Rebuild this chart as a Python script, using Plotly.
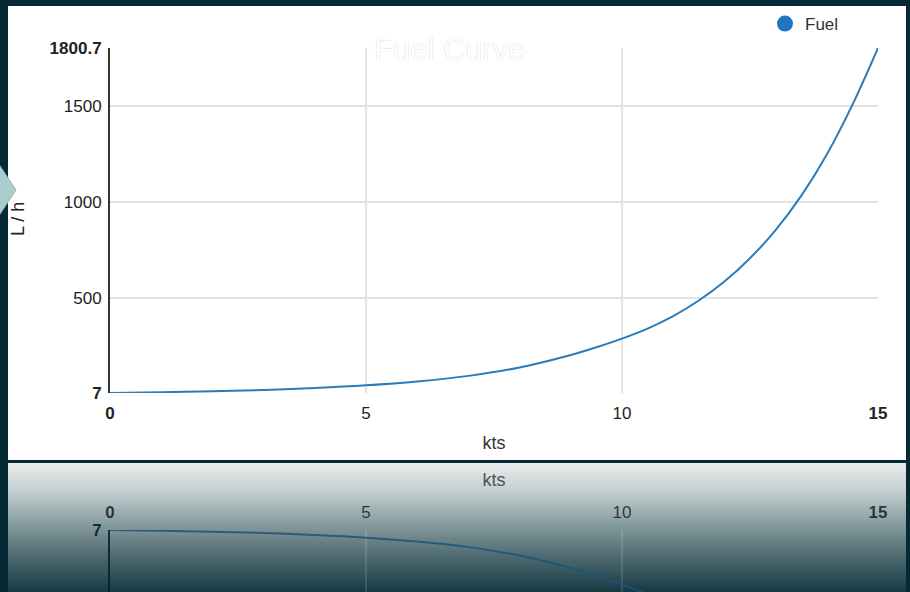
import base64
import struct
import zlib

import plotly.graph_objects as go

# ---- data ----
speed_kts = [0, 1, 2, 3, 4, 5, 6, 7, 8, 9, 9.5, 10, 10.5, 11, 11.5, 12, 12.5, 13, 13.5, 14, 14.5, 15]
fuel_lph = [7, 11, 16, 23, 33, 47, 67, 96, 140, 205, 245, 290, 342, 407, 488, 587, 708, 854, 1032, 1247, 1505, 1800.7]
series_name = "Fuel"
x_tickvals = [0, 5, 10, 15]
x_ticktext = ["<b>0</b>", "5", "10", "<b>15</b>"]
y_tickvals = [7, 500, 1000, 1500, 1800.7]
y_ticktext = ["<b>7</b>", "500", "1000", "1500", "<b>1800.7</b>"]
y_grid = [500, 1000, 1500]
x_grid = [5, 10]

# ---- geometry helpers (pixel -> paper) ----
W, H = 910, 592
L, R, T, B = 110, 32, 48, 0
PW, PH = W - L - R, H - T - B


def px(x):
    return (x - L) / PW


def py(y):
    return (H - B - y) / PH


FONT = "Arial, Liberation Sans, sans-serif"
LINE_COLOR = "#2b7bb8"
BG = "#062a33"

# y scale: 7 at pixel 393, 1800.7 at pixel 48
y_per_px = (1800.7 - 7) / (393 - 48)
refl_bottom_val = 7 + (592 - 530) * y_per_px


# ---- vertical gradient image for the reflection backdrop ----
def gradient_png(stops, height):
    rows = b""
    for i in range(height):
        yy = stops[0][0] + (stops[-1][0] - stops[0][0]) * (i + 0.5) / height
        c = stops[-1][1]
        for j in range(len(stops) - 1):
            if stops[j][0] <= yy <= stops[j + 1][0]:
                a, ca = stops[j]
                b, cb = stops[j + 1]
                t = (yy - a) / (b - a)
                c = tuple(int(round(ca[k] + (cb[k] - ca[k]) * t)) for k in range(3))
                break
        rows += b"\x00" + bytes(c) * 4

    def chunk(tag, data):
        return struct.pack(">I", len(data)) + tag + data + struct.pack(">I", zlib.crc32(tag + data) & 0xFFFFFFFF)

    png = b"\x89PNG\r\n\x1a\n"
    png += chunk(b"IHDR", struct.pack(">IIBBBBB", 4, height, 8, 2, 0, 0, 0))
    png += chunk(b"IDAT", zlib.compress(rows))
    png += chunk(b"IEND", b"")
    return "data:image/png;base64," + base64.b64encode(png).decode()


stops = [(463, (234, 237, 237)), (490, (198, 208, 209)), (520, (142, 162, 165)),
         (555, (80, 108, 114)), (592, (22, 58, 67))]
grad_src = gradient_png(stops, 129)

fig = go.Figure()

fig.add_trace(go.Scatter(
    x=speed_kts, y=fuel_lph, mode="lines", name=series_name,
    line=dict(color=LINE_COLOR, width=2, shape="spline", smoothing=1.0),
    showlegend=False, xaxis="x", yaxis="y", hoverinfo="x+y",
))
# legend entry (circle symbol)
fig.add_trace(go.Scatter(
    x=[None], y=[None], mode="markers", name=series_name,
    marker=dict(color="#1f77c0", size=16, symbol="circle"),
    showlegend=True, xaxis="x", yaxis="y",
))
# reflection
fig.add_trace(go.Scatter(
    x=speed_kts, y=fuel_lph, mode="lines", name=series_name + " (reflection)",
    line=dict(color="rgba(25,85,125,0.85)", width=2, shape="spline", smoothing=1.0),
    showlegend=False, xaxis="x2", yaxis="y2", hoverinfo="skip",
))

shapes = [
    # white panel
    dict(type="rect", xref="paper", yref="paper", layer="below",
         x0=px(8), x1=px(906), y0=py(460), y1=py(6),
         fillcolor="white", line=dict(width=0)),
    # left arrow marker
    dict(type="path", xref="paper", yref="paper", layer="above",
         path="M %f,%f L %f,%f L %f,%f Z" % (px(-2), py(163), px(16), py(190), px(-2), py(217)),
         fillcolor="#a9cdcd", line=dict(color="#8fb7b9", width=1)),
]

images = [dict(source=grad_src, xref="paper", yref="paper", x=px(8), y=py(463),
               sizex=px(906) - px(8), sizey=py(463) - py(592), sizing="stretch",
               xanchor="left", yanchor="top", layer="below")]

annotations = [
    dict(text="Fuel Curve", xref="paper", yref="paper", x=px(450), y=py(50),
         xanchor="center", yanchor="middle", showarrow=False,
         font=dict(family=FONT, size=31, color="white",
                   shadow="0px 0px 1px #c0c0c0")),
    dict(text="L / h", xref="paper", yref="paper", x=px(18), y=py(219),
         xanchor="center", yanchor="middle", showarrow=False, textangle=-90,
         font=dict(family=FONT, size=18, color="#222")),
]

fig.update_layout(
    width=W, height=H,
    margin=dict(l=L, r=R, t=T, b=B, pad=0, autoexpand=False),
    paper_bgcolor=BG, plot_bgcolor="rgba(0,0,0,0)",
    font=dict(family=FONT, size=17, color="#333"),
    shapes=shapes, annotations=annotations, images=images,
    showlegend=True,
    legend=dict(x=px(765), y=py(6), xanchor="left", yanchor="top",
                bgcolor="rgba(0,0,0,0)", font=dict(family=FONT, size=17, color="#333"),
                itemwidth=30),
    xaxis=dict(domain=[0, 1], range=[0, 15], anchor="y", automargin=False,
               tickmode="array", tickvals=x_tickvals, ticktext=x_ticktext,
               showgrid=False, zeroline=False, showline=False, ticks="",
               ticklabelstandoff=8,
               tickfont=dict(family=FONT, size=17, color="#222"),
               minor=dict(tickmode="array", tickvals=x_grid, showgrid=True,
                          gridcolor="#e3e3e3", gridwidth=1.5, ticks=""),
               title=dict(text="kts", standoff=14, font=dict(family=FONT, size=18, color="#333"))),
    yaxis=dict(domain=[py(393), 1], range=[7, 1800.7], anchor="x", automargin=False,
               tickmode="array", tickvals=y_tickvals, ticktext=y_ticktext,
               showgrid=False, zeroline=False, showline=True, linecolor="#333", linewidth=2,
               ticks="", ticklabelstandoff=3,
               tickfont=dict(family=FONT, size=17, color="#222"),
               minor=dict(tickmode="array", tickvals=y_grid, showgrid=True,
                          gridcolor="#e3e3e3", gridwidth=1.5, ticks="")),
    xaxis2=dict(domain=[0, 1], matches="x", anchor="y2", side="top", automargin=False,
                tickmode="array", tickvals=x_tickvals, ticktext=x_ticktext,
                showgrid=False, zeroline=False, showline=False, ticks="",
                ticklabelstandoff=8,
                tickfont=dict(family=FONT, size=17, color="rgba(20,30,35,0.85)"),
                minor=dict(tickmode="array", tickvals=x_grid, showgrid=True,
                           gridcolor="rgba(255,255,255,0.12)", gridwidth=1.5, ticks=""),
                title=dict(text="kts", standoff=11,
                           font=dict(family=FONT, size=18, color="rgba(40,50,55,0.8)"))),
    yaxis2=dict(domain=[0, py(530)], range=[refl_bottom_val, 7], anchor="x2", automargin=False,
                tickmode="array", tickvals=[7], ticktext=["<b>7</b>"],
                showgrid=False, zeroline=False, showline=True,
                linecolor="rgba(10,35,42,0.9)", linewidth=2, ticks="",
                ticklabelstandoff=3,
                tickfont=dict(family=FONT, size=17, color="rgba(15,25,30,0.9)")),
)

post = (
    "document.documentElement.style.margin='0';"
    "document.documentElement.style.overflow='hidden';"
    "document.body.style.margin='0';"
    "document.body.style.overflow='hidden';"
)

fig.write_html("out.html", config={"displayModeBar": False}, post_script=post)
